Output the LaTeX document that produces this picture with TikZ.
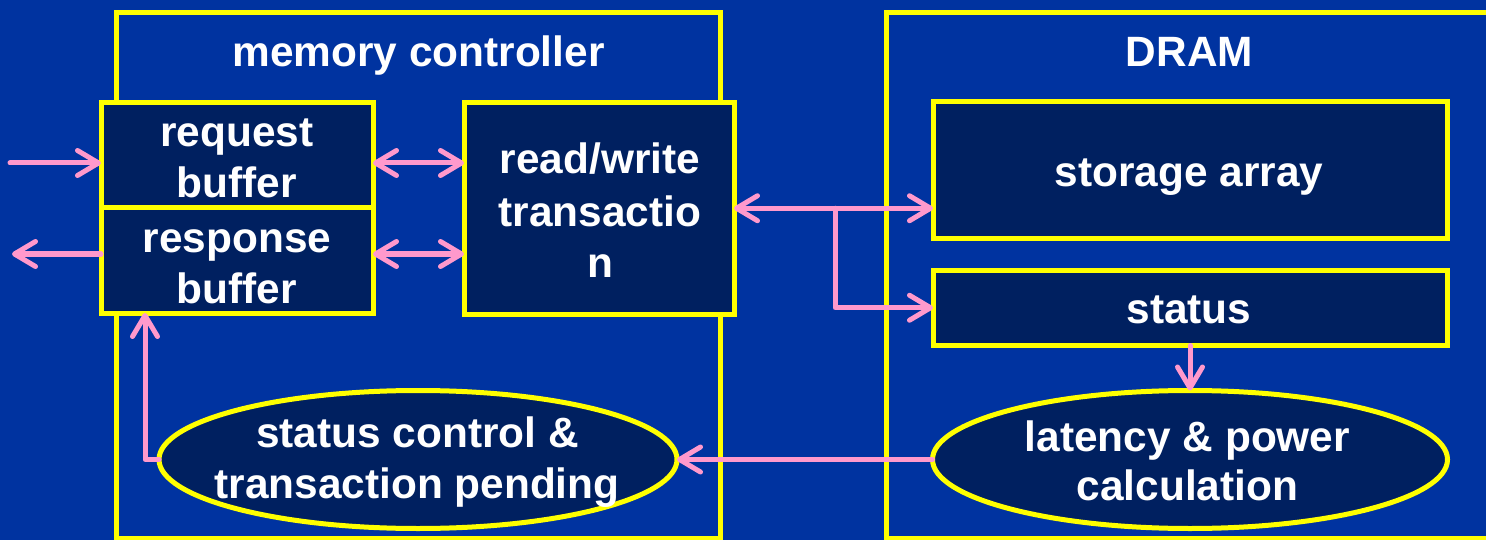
\documentclass[tikz,border=0pt]{standalone}
\usepackage{fontspec}
\setmainfont{Liberation Sans}
\usetikzlibrary{arrows.meta,shapes.geometric}
\definecolor{slidebg}{RGB}{0,51,160}
\definecolor{boxfill}{RGB}{0,32,96}
\definecolor{edge}{RGB}{255,255,0}
\definecolor{wire}{RGB}{255,153,204}

\begin{document}
\begin{tikzpicture}[x=1pt,y=-1pt,
  frame/.style={draw=edge, line width=5pt, inner sep=0pt, outer sep=0pt},
  block/.style={frame, rectangle, fill=boxfill},
  oval/.style={frame, ellipse, fill=boxfill},
  lbl/.style={text=white, font=\bfseries\fontsize{42.4}{50}\selectfont, inner sep=0pt, anchor=base},
  wirestyle/.style={draw=wire, line width=5pt, line cap=round, line join=round},
  barb/.tip={Straight Barb[length=21pt,width=25pt,round]},
  arr/.style={wirestyle, -barb},
  darr/.style={wirestyle, barb-barb},
]
% canvas
\useasboundingbox (0,0) rectangle (1486,540);
\clip (0,0) rectangle (1486,540);
\fill[slidebg] (0,0) rectangle (1486,540);

% outer frames
\node[frame, minimum width=604pt, minimum height=525pt] (mc) at (418,275.5) {};
\node[frame, minimum width=624pt, minimum height=525.5pt] (dram) at (1198,275.25) {};

% memory controller blocks
\node[block, minimum width=272pt, minimum height=105pt] (req) at (237,155.5) {};
\node[block, minimum width=272pt, minimum height=105pt] (resp) at (237,260.5) {};
\node[block, minimum width=270pt, minimum height=211.5pt] (rw) at (599,208.25) {};
\node[oval, minimum width=518pt, minimum height=138pt] (scctl) at (418,459.5) {};

% DRAM blocks
\node[block, minimum width=514pt, minimum height=137pt] (stor) at (1190,170.5) {};
\node[block, minimum width=514pt, minimum height=75.5pt] (stat) at (1190,307.75) {};
\node[oval, minimum width=515pt, minimum height=138pt] (lat) at (1190,459.5) {};

% helper points for the wires
\coordinate (inL) at (10,163);
\coordinate (outL) at (12,254);
\coordinate (br) at (835,208.25);
\coordinate (fbx) at (145,400);

% wires
\draw[arr] (inL) -- (inL -| req.west);
\draw[arr] (outL -| resp.west) -- (outL);
\draw[darr] (req.east |- inL) -- (rw.west |- inL);
\draw[darr] (resp.east |- outL) -- (rw.west |- outL);
\draw[darr] (rw.east) -- (rw.east -| stor.west);
\draw[arr] (br) |- (stat.west);
\draw[arr] (stat.south) -- (lat.north);
\draw[arr] (lat.west) -- (scctl.east);
\draw[arr] (scctl.west) -| (fbx |- resp.south);

% labels
\node[lbl] (mcT) at (418.5,67) {memory controller};
\node[lbl] (dramT) at (1189.5,67) {DRAM};
\node[lbl] (reqT1) at (237,147) {request};
\node[lbl] (reqT2) at (237,198) {buffer};
\node[lbl] (respT1) at (237,252) {response};
\node[lbl] (respT2) at (237,303) {buffer};
\node[lbl] (rwT1) at (600,174) {read/write};
\node[lbl] (rwT2) at (600,226) {transactio};
\node[lbl] (rwT3) at (600,277) {n};
\node[lbl] (storT) at (1189,187) {storage array};
\node[lbl] (statT) at (1189,323) {status};
\node[lbl] (scT1) at (417.5,447) {status control \&};
\node[lbl] (scT2) at (417,498) {transaction pending};
\node[lbl] (latT1) at (1187.5,451) {latency \& power};
\node[lbl] (latT2) at (1187.5,500) {calculation};
\end{tikzpicture}
\end{document}
